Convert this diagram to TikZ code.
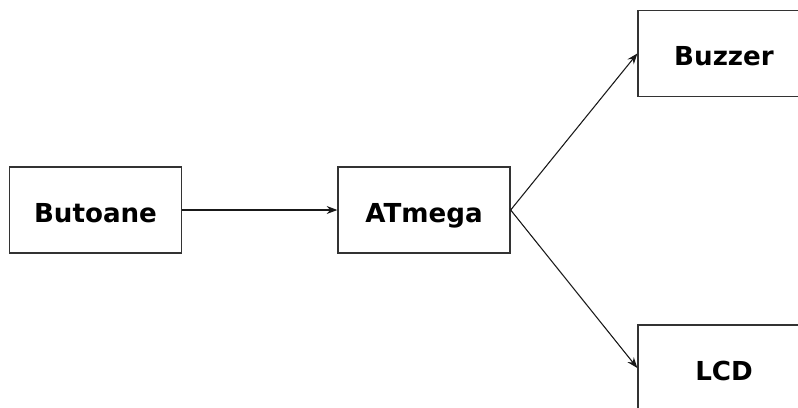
\documentclass[tikz,border=0pt]{standalone}
\usepackage{fontspec}
\setmainfont{DejaVu Sans}
\usetikzlibrary{arrows.meta}

\tikzset{blok/.style={draw=black!80,line width=1pt,minimum width=129pt,minimum height=64.5pt,
    inner sep=0pt,text height=18pt,text depth=0pt,font=\fontsize{19.6}{23}\selectfont\bfseries}}

\begin{document}
\begin{tikzpicture}[>={Stealth[length=8pt,width=6pt]},x=0.75pt,y=-0.75pt]
                        \clip (0,0) rectangle (798,407);
                        \fill[white] (0,0) rectangle (798,407);
                        \node[blok] (butoane) at (95.5,210) {Butoane};
                        \node[blok] (atmega) at (424,210) {ATmega};
                        \node[blok] (buzzer) at (724,53.5) {Buzzer};
                        \node[blok] (lcd) at (724,368) {LCD};
                        \draw[->,black!90,line width=0.8pt] (butoane) -- (atmega);
                        \draw[->,black!90,line width=0.8pt] (atmega.east) -- (buzzer.west);
                        \draw[->,black!90,line width=0.8pt] (atmega.east) -- (lcd.west);
                    \end{tikzpicture}
\end{document}
